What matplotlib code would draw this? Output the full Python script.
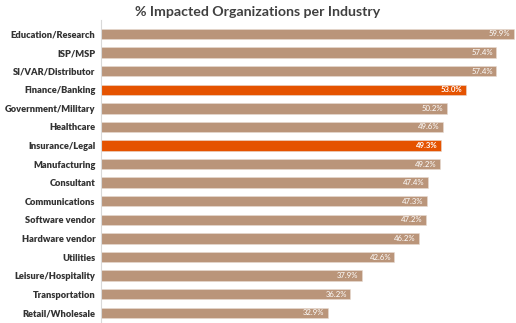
import matplotlib
matplotlib.use("Agg")
import matplotlib.pyplot as plt

industries = [
    "Education/Research", "ISP/MSP", "SI/VAR/Distributor", "Finance/Banking",
    "Government/Military", "Healthcare", "Insurance/Legal", "Manufacturing",
    "Consultant", "Communications", "Software vendor", "Hardware vendor",
    "Utilities", "Leisure/Hospitality", "Transportation", "Retail/Wholesale",
]
pct_impacted = [59.9, 57.4, 57.4, 53.0, 50.2, 49.6, 49.3, 49.2,
                47.4, 47.3, 47.2, 46.2, 42.6, 37.9, 36.2, 32.9]
highlighted = ["Finance/Banking", "Insurance/Legal"]

base_color = "#BA957A"
accent_color = "#E55300"

plt.rcParams["font.family"] = ["Lato", "DejaVu Sans"]

fig = plt.figure(figsize=(5.16, 3.23), dpi=100)
ax = fig.add_axes([101 / 516, 0.0 / 323, 414 / 516, 1 - 20 / 323])

positions = list(range(len(industries)))
colors = [accent_color if name in highlighted else base_color for name in industries]
bars = ax.barh(positions, pct_impacted, height=0.56, color=colors,
               edgecolor="#E8DCD2", linewidth=0.4)

for name, bar, val in zip(industries, bars, pct_impacted):
    ax.text(bar.get_width() - 0.5, bar.get_y() + bar.get_height() / 2,
            f"{val:.1f}%", ha="right", va="center", color="white",
            fontsize=5.6, fontweight="bold" if name in highlighted else "normal")

ax.set_yticks(positions)
ax.set_yticklabels(industries, fontsize=6.7, fontweight="heavy", color="#333333")
ax.tick_params(axis="y", length=0, pad=4)
ax.tick_params(axis="x", bottom=False, labelbottom=False)
ax.set_ylim(len(industries) - 0.5 + 0.05, -0.75)
ax.set_xlim(0, 60.1)

for side in ["top", "right", "bottom"]:
    ax.spines[side].set_visible(False)
ax.spines["left"].set_color("#D9D9D9")
ax.spines["left"].set_linewidth(0.8)

fig.text(0.5, 1 - 12 / 323, "% Impacted Organizations per Industry",
         ha="center", va="center", fontsize=10.2, fontweight="bold", color="#404040")

fig.savefig("out.png", dpi=100)
